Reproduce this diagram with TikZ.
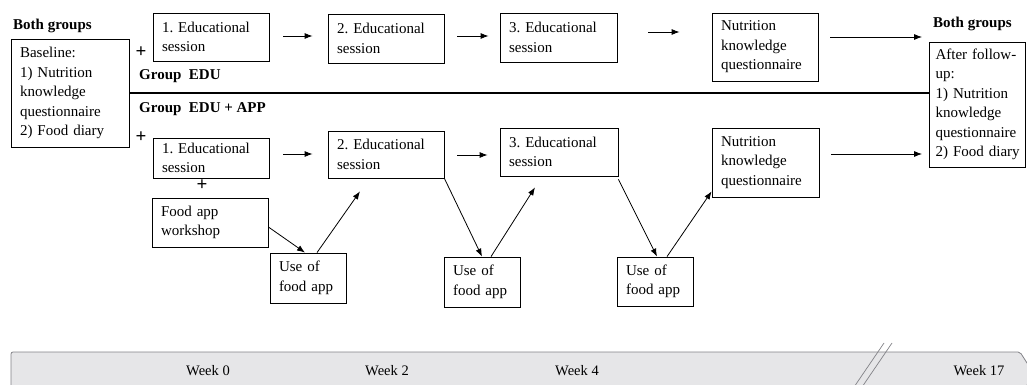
\documentclass[tikz,border=0pt]{standalone}
\usepackage{fontspec}
\setmainfont{Liberation Serif}
\usetikzlibrary{arrows.meta}
\newcommand{\fsz}{\fontsize{15}{19.5}\selectfont\frenchspacing}
\definecolor{barfill}{RGB}{230,230,232}
\definecolor{bargray}{RGB}{130,130,135}
\tikzset{
  box/.style={draw, line width=0.8pt, inner xsep=9pt, inner ysep=0pt, align=left, font=\fsz, anchor=center},
  arr/.style={-{Latex[length=8pt,width=6pt]}, line width=0.8pt},
  lbl/.style={font=\fsz\bfseries, inner sep=0pt, anchor=west},
  plus/.style={font=\fontsize{19}{19}\selectfont\bfseries, inner sep=0pt},
  week/.style={font=\fontsize{14.5}{14.5}\selectfont, inner sep=0pt},
}
\begin{document}
\begin{tikzpicture}[x=1pt,y=-1pt]
\useasboundingbox (0,0) rectangle (1027,385);
\clip (0,0) rectangle (1027,385);
% timeline bar
\draw[fill=barfill, draw=bargray, line width=0.8pt, rounded corners=2pt]
  (11,352) -- (1020,352) -- (1034,374) -- (1020,396) -- (11,396) -- cycle;
\coordinate (s1a) at (884,343); \coordinate (s1b) at (852,390);
\coordinate (s2a) at (892,343); \coordinate (s2b) at (860,390);
\draw[bargray, line width=0.7pt] (s1a) -- (s1b);
\draw[bargray, line width=0.7pt] (s2a) -- (s2b);
\node[week] (w0) at (208,371) {Week 0};
\node[week] (w2) at (387,371) {Week 2};
\node[week] (w4) at (577,371) {Week 4};
\node[week] (w17) at (979,371) {Week 17};

% labels
\node[lbl] (bg1) at (13,26) {Both groups};
\node[lbl] (bg2) at (933,24) {Both groups};
\node[lbl] (gedu) at (139,76) {Group\ \ EDU};
\node[lbl] (gapp) at (139,109) {Group\ \ EDU + APP};
\node[plus] (p1) at (141,52) {+};
\node[plus] (p2) at (141,137) {+};
\node[plus] (p3) at (202,185) {+};

% boxes
\node[box, text width=100pt, minimum height=108pt] (base) at (70,93)
  {Baseline:\\1) Nutrition\\knowledge\\questionnaire\\2) Food diary};
\node[box, text width=84pt, inner xsep=6pt, minimum height=125pt] (after) at (977.5,104.5)
  {\makebox[\linewidth][s]{After follow-}\\up:\\1) Nutrition\\knowledge\\questionnaire\\\mbox{2) Food diary}};

\node[box, text width=98pt, minimum height=48pt] (t1) at (211,37) {1. Educational\\session};
\node[box, text width=98pt, minimum height=49pt] (t2) at (386,38.5) {2. Educational\\session};
\node[box, text width=99pt, minimum height=49pt] (t3) at (558.5,37.5) {3. Educational\\session};
\node[box, text width=88pt, minimum height=68pt] (tn) at (765,47) {Nutrition\\knowledge\\questionnaire};

\node[box, text width=98pt, minimum height=40pt] (l1) at (211,158) {1. Educational\\session};
\node[box, text width=98pt, minimum height=47pt] (l2) at (386,154.5) {2. Educational\\session};
\node[box, text width=100pt, minimum height=48pt] (l3) at (559,152) {3. Educational\\session};
\node[box, text width=89pt, minimum height=69pt] (ln) at (765.5,162.5) {Nutrition\\knowledge\\questionnaire};

\node[box, text width=98pt, minimum height=49pt] (ws) at (210,222.5) {Food app\\workshop};
\node[box, text width=58pt, minimum height=50pt] (u1) at (308,278) {Use of\\food app};
\node[box, text width=58pt, minimum height=50pt] (u2) at (482,282) {Use of\\food app};
\node[box, text width=58pt, minimum height=49pt] (u3) at (655,281.5) {Use of\\food app};

% divider
\draw[line width=2.5pt] (base.east |- 0,93) -- (after.west |- 0,93);

% top row arrows
\draw[arr, shorten <=14pt, shorten >=15pt] (t1.east |- 0,36) -- (t2.west |- 0,36);
\draw[arr, shorten <=13pt, shorten >=11pt] (t2.east |- 0,36) -- (t3.west |- 0,36);
\draw[arr, shorten <=31pt, shorten >=32pt] (t3.east |- 0,32) -- (tn.west |- 0,32);
\draw[arr, shorten <=12pt, shorten >=7pt] (tn.east |- 0,37) -- (after.west |- 0,37);

% bottom row arrows
\draw[arr, shorten <=14pt, shorten >=15pt] (l1.east |- 0,154) -- (l2.west |- 0,154);
\draw[arr, shorten <=13pt, shorten >=12pt] (l2.east |- 0,155) -- (l3.west |- 0,155);
\draw[arr, shorten <=12pt, shorten >=7pt] (ln.east |- 0,154) -- (after.west |- 0,154);

% diagonal arrows
\draw[arr] ([yshift=-4.5pt]ws.east) -- ([xshift=-3pt]u1.north);
\draw[arr] ([xshift=9pt]u1.north) -- ([xshift=-26pt,yshift=-13pt]l2.south);
\draw[arr] (l2.south east) -- (u2.north);
\draw[arr] ([xshift=9pt]u2.north) -- ([xshift=-24pt,yshift=-11pt]l3.south);
\draw[arr] ([yshift=-3pt]l3.south east) -- ([xshift=2pt]u3.north);
\draw[arr] ([xshift=12pt]u3.north) -- ([yshift=6pt]ln.south west);
\end{tikzpicture}
\end{document}
